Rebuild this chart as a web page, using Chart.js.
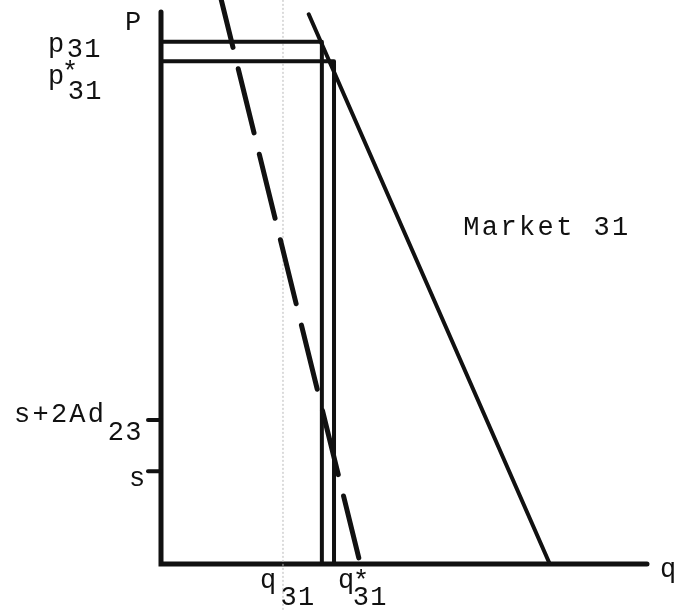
<!DOCTYPE html>
<html>
<head>
<meta charset="utf-8">
<script src="https://cdn.jsdelivr.net/npm/chart.js@4.4.1/dist/chart.umd.min.js"></script>
<style>
  html, body { margin: 0; background: #fff; }
  #wrap { width: 685px; height: 611px; }
</style>
</head>
<body>
<div id="wrap"><canvas id="market31"></canvas></div>
<script>
// price levels marked on the P axis (p31, p*31)
const priceNames = ['p31', 'p*31'];
const priceValues = [94.6, 91.1];
// matching quantities on the q axis (q31, q*31)
const qtyNames = ['q31', 'q*31'];
const qtyValues = [33.1, 35.6];
// tick marks on the P axis
const tickNames = ['s+2Ad23', 's'];
const tickValues = [26.1, 16.8];
// solid demand line (q, p end points)
const solidQ = [30.4, 80.0];
const solidP = [99.6, 0];
// dashed line
const dashQ = [12.4, 40.7];
const dashP = [102.2, 1.1];
// faint fold mark in the scan
const foldQ = [25.1, 25.1];
const foldP = [102.2, -8.5];

const pts = (qs, ps) => qs.map((q, i) => ({ x: q, y: ps[i] }));

const boxes = priceValues.map((p, i) => ({
  data: [{ x: 0, y: p }, { x: qtyValues[i], y: p }, { x: qtyValues[i], y: 0 }],
  borderColor: '#111',
  borderWidth: 4,
  borderJoinStyle: 'round'
}));

// typewriter look: one glyph per fixed-width cell
function mono(ctx, text, x, y, adv) {
  for (let i = 0; i < text.length; i++) ctx.fillText(text[i], x + adv / 2 + i * adv, y);
}

const axesAndLabels = {
  id: 'axesAndLabels',
  beforeDatasetsDraw(chart) {
    const ctx = chart.ctx, xs = chart.scales.x, ys = chart.scales.y;
    const X0 = xs.getPixelForValue(0), Y0 = ys.getPixelForValue(0);
    ctx.save();
    ctx.strokeStyle = '#111';
    ctx.lineCap = 'round';
    ctx.lineWidth = 5;
    ctx.beginPath();
    ctx.moveTo(X0, ys.getPixelForValue(100));
    ctx.lineTo(X0, Y0);
    ctx.lineTo(xs.getPixelForValue(100), Y0);
    ctx.stroke();
    ctx.lineWidth = 4;
    tickValues.forEach(v => {
      const yt = ys.getPixelForValue(v);
      ctx.beginPath();
      ctx.moveTo(X0 - 13, yt);
      ctx.lineTo(X0, yt);
      ctx.stroke();
    });
    ctx.restore();
  },
  afterDraw(chart) {
    const ctx = chart.ctx, xs = chart.scales.x, ys = chart.scales.y;
    const X0 = xs.getPixelForValue(0), Y0 = ys.getPixelForValue(0);
    const adv = 18.4;
    ctx.save();
    ctx.fillStyle = '#111';
    ctx.font = '27px "Liberation Mono", "Courier New", monospace';
    ctx.textAlign = 'center';
    ctx.textBaseline = 'alphabetic';

    // axis names
    mono(ctx, 'P', X0 - 37, ys.getPixelForValue(100) + 18, adv);
    mono(ctx, 'q', xs.getPixelForValue(100) + 12, Y0 + 13, adv);

    // p31
    let yp = ys.getPixelForValue(priceValues[0]);
    mono(ctx, 'p', X0 - 114, yp + 10, adv);
    mono(ctx, '31', X0 - 95, yp + 15, 17.5);
    // p*31
    yp = ys.getPixelForValue(priceValues[1]);
    mono(ctx, 'p', X0 - 114, yp + 23, adv);
    mono(ctx, '*', X0 - 100, yp + 19, adv);
    mono(ctx, '31', X0 - 94, yp + 38, 17.5);

    // q31
    let xq = xs.getPixelForValue(qtyValues[0]);
    mono(ctx, 'q', xq - 63, Y0 + 24, adv);
    mono(ctx, '31', xq - 42, Y0 + 41, 17.5);
    // q*31
    xq = xs.getPixelForValue(qtyValues[1]);
    mono(ctx, 'q', xq + 3, Y0 + 24, adv);
    mono(ctx, '*', xq + 18, Y0 + 25, adv);
    mono(ctx, '31', xq + 18, Y0 + 41, 17.5);

    // s+2Ad23
    let yt = ys.getPixelForValue(tickValues[0]);
    mono(ctx, 's+2Ad', X0 - 148, yt + 2, adv);
    mono(ctx, '23', X0 - 54, yt + 20, 17.5);
    // s
    yt = ys.getPixelForValue(tickValues[1]);
    mono(ctx, 's', X0 - 33, yt + 15, adv);

    // market name
    mono(ctx, 'Market 31', X0 + 301, ys.getPixelForValue(100) + 223, 18.6);
    ctx.restore();
  }
};

new Chart(document.getElementById('market31'), {
  type: 'scatter',
  data: {
    datasets: [
      ...boxes,
      {
        data: pts(solidQ, solidP),
        borderColor: '#111',
        borderWidth: 4,
        borderCapStyle: 'round'
      },
      {
        data: pts(dashQ, dashP),
        borderColor: '#111',
        borderWidth: 5,
        borderCapStyle: 'round',
        borderDash: [66, 22],
        borderDashOffset: 17,
        clip: false
      },
      {
        // drawn underneath everything else
        data: pts(foldQ, foldP),
        borderColor: '#b8b8b8',
        borderWidth: 1,
        borderDash: [2, 2],
        clip: false,
        order: 10
      }
    ]
  },
  options: {
    responsive: true,
    maintainAspectRatio: false,
    animation: false,
    showLine: true,
    elements: { point: { radius: 0, hoverRadius: 0 }, line: { tension: 0, fill: false } },
    layout: { padding: { left: 161, top: 12, right: 38, bottom: 47 } },
    scales: {
      x: { type: 'linear', min: 0, max: 100, display: false },
      y: { type: 'linear', min: 0, max: 100, display: false }
    },
    plugins: { legend: { display: false }, tooltip: { enabled: false } }
  },
  plugins: [axesAndLabels]
});
</script>
</body>
</html>
